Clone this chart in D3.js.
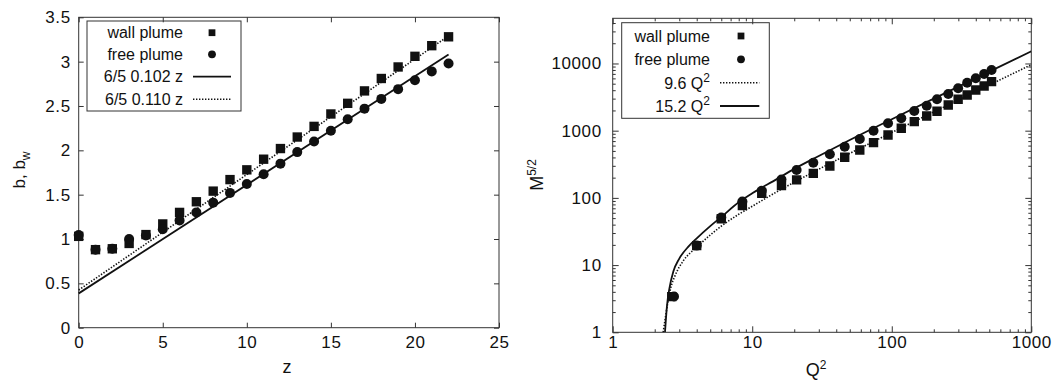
<!DOCTYPE html>
<html>
<head>
<meta charset="utf-8">
<script src="https://cdn.jsdelivr.net/npm/d3@7"></script>
<style>
body { margin: 0; background: #fff; }
text { font-family: "Liberation Sans", Arial, sans-serif; fill: #111; }
.tick text { letter-spacing: 0.6px; }
.frame { fill: none; stroke: #333; stroke-width: 1; }
.tick line { stroke: #333; }
</style>
</head>
<body>
<svg id="fig" width="1061" height="381"></svg>
<script>
/* data: left panel (width vs height) */
var zVals  = [0,1,2,3,4,5,6,7,8,9,10,11,12,13,14,15,16,17,18,19,20,21,22];
var wallB  = [1.03,0.88,0.89,0.95,1.05,1.17,1.30,1.42,1.54,1.67,1.78,1.90,2.02,2.15,2.27,2.41,2.53,2.67,2.81,2.94,3.06,3.18,3.28];
var freeB  = [1.045,0.88,0.89,1.00,1.04,1.11,1.21,1.30,1.41,1.52,1.62,1.73,1.85,1.98,2.10,2.22,2.35,2.47,2.58,2.69,2.79,2.89,2.98];
var fitSolidL  = [[0,0.387],[22,3.08]];   // 6/5 0.102 z
var fitDottedL = [[0,0.425],[22,3.29]];   // 6/5 0.110 z
var xTicksL = [0,5,10,15,20,25];
var yTicksL = [0,0.5,1,1.5,2,2.5,3,3.5];

/* data: right panel (momentum vs volume flux) */
var wallQ2 = [2.65,4.0,6.0,8.5,11.7,16.2,20.8,27.4,36,46,59,74,94,117,145,178,211,254,299,347,400,459,519];
var wallM  = [3.4,19.5,49,77,117,152,185,232,298,402,516,663,863,1086,1362,1656,1950,2411,2931,3400,4036,4624,5360];
var freeQ2 = [2.75,4.0,6.0,8.5,11.7,16.2,20.8,27.4,36,46,59,74,94,117,145,178,211,254,299,347,400,459,519];
var freeM  = [3.4,19.5,51,88,128,188,260,334,445,578,753,1000,1288,1531,1964,2355,2931,3516,4276,5180,6025,6980,8000];
var fitDottedQ = [2.3,2.4,2.5,2.6,2.8,3.2,4,5,6,8,10,15,20,30,50,100,200,500,1000];
var fitDottedM = [1,1.8,3,4.5,7,11.5,18.5,28,38,57,75,123,171,267,459,939,1899,4780,9580];   // 9.6 Q^2
var fitSolidQ  = [2.37,2.45,2.55,2.72,3.0,3.5,4,5,6,8,10,15,20,30,50,100,200,500,1000];
var fitSolidM  = [1,2.5,4.5,8,12.5,19,25,38,52,86,117,190,270,420,725,1480,3000,7560,15150]; // 15.2 Q^2
var xMajorR = [1,10,100,1000];
var xMinorR = [2,3,4,5,6,7,8,9,20,30,40,50,60,70,80,90,200,300,400,500,600,700,800,900];
var yMajorR = [1,10,100,1000,10000];
var yMinorR = [2,3,4,5,6,7,8,9,20,30,40,50,60,70,80,90,200,300,400,500,600,700,800,900,
               2000,3000,4000,5000,6000,7000,8000,9000,20000,30000,40000];

var svg = d3.select("#fig");
var tickFont = 17, legFont = 16;

function styleAxis(g, size) {
	g.attr("font-size", size).select(".domain").remove();
}

/* ---------- Left panel ---------- */

var boxL = {left: 78.7, right: 499, top: 17.3, bottom: 327.7};
var xL = d3.scaleLinear().domain([0, 25]).range([boxL.left, boxL.right]);
var yL = d3.scaleLinear().domain([0, 3.5]).range([boxL.bottom, boxL.top]);

svg.append("g")
	.attr("transform", "translate(0," + boxL.bottom + ")")
	.call(d3.axisBottom(xL).tickValues(xTicksL).tickSize(-5).tickPadding(8).tickFormat(d3.format("d")))
	.call(styleAxis, tickFont);
svg.append("g")
	.attr("transform", "translate(0," + boxL.top + ")")
	.call(d3.axisTop(xL).tickValues(xTicksL).tickSize(-5).tickFormat(""))
	.call(styleAxis, tickFont);
svg.append("g")
	.attr("transform", "translate(" + boxL.left + ",0)")
	.call(d3.axisLeft(yL).tickValues(yTicksL).tickSize(-5).tickPadding(8).tickFormat(function(d){ return String(d); }))
	.call(styleAxis, tickFont);
svg.append("g")
	.attr("transform", "translate(" + boxL.right + ",0)")
	.call(d3.axisRight(yL).tickValues(yTicksL).tickSize(-5).tickFormat(""))
	.call(styleAxis, tickFont);

svg.append("rect").attr("class", "frame")
	.attr("x", boxL.left).attr("y", boxL.top)
	.attr("width", boxL.right - boxL.left).attr("height", boxL.bottom - boxL.top);

var square = d3.symbol().type(d3.symbolSquare).size(88);
var squareSmall = d3.symbol().type(d3.symbolSquare).size(46);

svg.append("g").selectAll("path")
	.data(zVals)
	.enter().append("path")
	.attr("d", square)
	.attr("fill", "#111")
	.attr("transform", function(d, i){ return "translate(" + xL(d) + "," + yL(wallB[i]) + ")"; });

svg.append("g").selectAll("circle")
	.data(zVals)
	.enter().append("circle")
	.attr("cx", function(d){ return xL(d); })
	.attr("cy", function(d, i){ return yL(freeB[i]); })
	.attr("r", 5)
	.attr("fill", "#111");

var lineL = d3.line()
	.x(function(d){ return xL(d[0]); })
	.y(function(d){ return yL(d[1]); });

svg.append("path").datum(fitSolidL)
	.attr("d", lineL).attr("fill", "none")
	.attr("stroke", "#111").attr("stroke-width", 1.8);
svg.append("path").datum(fitDottedL)
	.attr("d", lineL).attr("fill", "none")
	.attr("stroke", "#111").attr("stroke-width", 1.6)
	.attr("stroke-dasharray", "1.4,1.6");

svg.append("text")
	.attr("x", 287).attr("y", 373)
	.attr("text-anchor", "middle").attr("font-size", 18)
	.text("z");

var ylabL = svg.append("text")
	.attr("transform", "translate(25,170) rotate(-90)")
	.attr("text-anchor", "middle").attr("font-size", 17);
ylabL.append("tspan").text("b, b");
ylabL.append("tspan").attr("dy", 5).attr("font-size", 12).text("w");

/* legend left */
var legL = svg.append("g");
legL.append("rect").attr("class", "frame")
	.attr("x", 87).attr("y", 21).attr("width", 154).attr("height", 90);
var legLrows = [32.7, 54.3, 76.7, 99.3];
var legLtext = ["wall plume", "free plume", "6/5 0.102 z", "6/5 0.110 z"];
legL.selectAll("text")
	.data(legLtext)
	.enter().append("text")
	.attr("x", 183).attr("y", function(d, i){ return legLrows[i]; })
	.attr("dy", "0.35em").attr("text-anchor", "end").attr("font-size", legFont)
	.text(function(d){ return d; });
legL.append("path").attr("d", squareSmall).attr("fill", "#111")
	.attr("transform", "translate(212," + legLrows[0] + ")");
legL.append("circle").attr("cx", 212).attr("cy", legLrows[1]).attr("r", 3.9).attr("fill", "#111");
legL.append("line").attr("x1", 193).attr("x2", 231)
	.attr("y1", legLrows[2]).attr("y2", legLrows[2])
	.attr("stroke", "#111").attr("stroke-width", 1.8);
legL.append("line").attr("x1", 193).attr("x2", 231)
	.attr("y1", legLrows[3]).attr("y2", legLrows[3])
	.attr("stroke", "#111").attr("stroke-width", 1.6).attr("stroke-dasharray", "1.4,1.6");

/* ---------- Right panel ---------- */

var boxR = {left: 612.7, right: 1031.3, top: 18.3, bottom: 332.3};
var xR = d3.scaleLog().domain([1, 1000]).range([boxR.left, boxR.right]);
var yR = d3.scaleLog().domain([1, 47000]).range([boxR.bottom, boxR.top]);

svg.append("g")
	.attr("transform", "translate(0," + boxR.bottom + ")")
	.call(d3.axisBottom(xR).tickValues(xMinorR).tickSize(-3).tickFormat(""))
	.call(styleAxis, tickFont);
svg.append("g")
	.attr("transform", "translate(0," + boxR.bottom + ")")
	.call(d3.axisBottom(xR).tickValues(xMajorR).tickSize(-6).tickPadding(4).tickFormat(d3.format("d")))
	.call(styleAxis, tickFont);
svg.append("g")
	.attr("transform", "translate(0," + boxR.top + ")")
	.call(d3.axisTop(xR).tickValues(xMinorR).tickSize(-3).tickFormat(""))
	.call(styleAxis, tickFont);
svg.append("g")
	.attr("transform", "translate(0," + boxR.top + ")")
	.call(d3.axisTop(xR).tickValues(xMajorR).tickSize(-6).tickFormat(""))
	.call(styleAxis, tickFont);
svg.append("g")
	.attr("transform", "translate(" + boxR.left + ",0)")
	.call(d3.axisLeft(yR).tickValues(yMinorR).tickSize(-3).tickFormat(""))
	.call(styleAxis, tickFont);
svg.append("g")
	.attr("transform", "translate(" + boxR.left + ",0)")
	.call(d3.axisLeft(yR).tickValues(yMajorR).tickSize(-6).tickPadding(11).tickFormat(d3.format("d")))
	.call(styleAxis, tickFont);
svg.append("g")
	.attr("transform", "translate(" + boxR.right + ",0)")
	.call(d3.axisRight(yR).tickValues(yMinorR).tickSize(-3).tickFormat(""))
	.call(styleAxis, tickFont);
svg.append("g")
	.attr("transform", "translate(" + boxR.right + ",0)")
	.call(d3.axisRight(yR).tickValues(yMajorR).tickSize(-6).tickFormat(""))
	.call(styleAxis, tickFont);

svg.append("rect").attr("class", "frame")
	.attr("x", boxR.left).attr("y", boxR.top)
	.attr("width", boxR.right - boxR.left).attr("height", boxR.bottom - boxR.top);

svg.append("defs").append("clipPath").attr("id", "clipR")
	.append("rect")
	.attr("x", boxR.left).attr("y", boxR.top)
	.attr("width", boxR.right - boxR.left).attr("height", boxR.bottom - boxR.top);

var plotR = svg.append("g").attr("clip-path", "url(#clipR)");

plotR.append("g").selectAll("path")
	.data(wallQ2)
	.enter().append("path")
	.attr("d", square)
	.attr("fill", "#111")
	.attr("transform", function(d, i){ return "translate(" + xR(d) + "," + yR(wallM[i]) + ")"; });

plotR.append("g").selectAll("circle")
	.data(freeQ2)
	.enter().append("circle")
	.attr("cx", function(d){ return xR(d); })
	.attr("cy", function(d, i){ return yR(freeM[i]); })
	.attr("r", 5)
	.attr("fill", "#111");

var lineR = d3.line()
	.x(function(d){ return xR(d[0]); })
	.y(function(d){ return yR(d[1]); })
	.curve(d3.curveMonotoneX);

plotR.append("path")
	.datum(fitDottedQ.map(function(q, i){ return [q, fitDottedM[i]]; }))
	.attr("d", lineR).attr("fill", "none")
	.attr("stroke", "#111").attr("stroke-width", 1.6)
	.attr("stroke-dasharray", "1.4,1.6");
plotR.append("path")
	.datum(fitSolidQ.map(function(q, i){ return [q, fitSolidM[i]]; }))
	.attr("d", lineR).attr("fill", "none")
	.attr("stroke", "#111").attr("stroke-width", 1.8);

var xlabR = svg.append("text")
	.attr("x", 816).attr("y", 376)
	.attr("text-anchor", "middle").attr("font-size", 18);
xlabR.append("tspan").text("Q");
xlabR.append("tspan").attr("dy", -7).attr("font-size", 12).text("2");

var ylabR = svg.append("text")
	.attr("transform", "translate(543,175) rotate(-90)")
	.attr("text-anchor", "middle").attr("font-size", 18);
ylabR.append("tspan").text("M");
ylabR.append("tspan").attr("dy", -7).attr("font-size", 12).text("5/2");

/* legend right */
var legR = svg.append("g");
legR.append("rect").attr("class", "frame")
	.attr("x", 621.7).attr("y", 22.7).attr("width", 147.6).attr("height", 95.6);
var legRrows = [36, 59.3, 82.7, 106];
legR.append("text").attr("x", 710).attr("y", legRrows[0]).attr("dy", "0.35em")
	.attr("text-anchor", "end").attr("font-size", legFont).text("wall plume");
legR.append("text").attr("x", 710).attr("y", legRrows[1]).attr("dy", "0.35em")
	.attr("text-anchor", "end").attr("font-size", legFont).text("free plume");
var legRfit = [["9.6 Q", legRrows[2]], ["15.2 Q", legRrows[3]]];
legRfit.forEach(function(f){
	var t = legR.append("text").attr("x", 710).attr("y", f[1] + 6)
		.attr("text-anchor", "end").attr("font-size", legFont);
	t.append("tspan").text(f[0]);
	t.append("tspan").attr("dy", -7).attr("font-size", 12).text("2");
});
legR.append("path").attr("d", squareSmall).attr("fill", "#111")
	.attr("transform", "translate(741," + legRrows[0] + ")");
legR.append("circle").attr("cx", 741).attr("cy", legRrows[1]).attr("r", 3.9).attr("fill", "#111");
legR.append("line").attr("x1", 720).attr("x2", 759.3)
	.attr("y1", legRrows[2]).attr("y2", legRrows[2])
	.attr("stroke", "#111").attr("stroke-width", 1.6).attr("stroke-dasharray", "1.4,1.6");
legR.append("line").attr("x1", 720).attr("x2", 759.3)
	.attr("y1", legRrows[3]).attr("y2", legRrows[3])
	.attr("stroke", "#111").attr("stroke-width", 1.8);
</script>
</body>
</html>
